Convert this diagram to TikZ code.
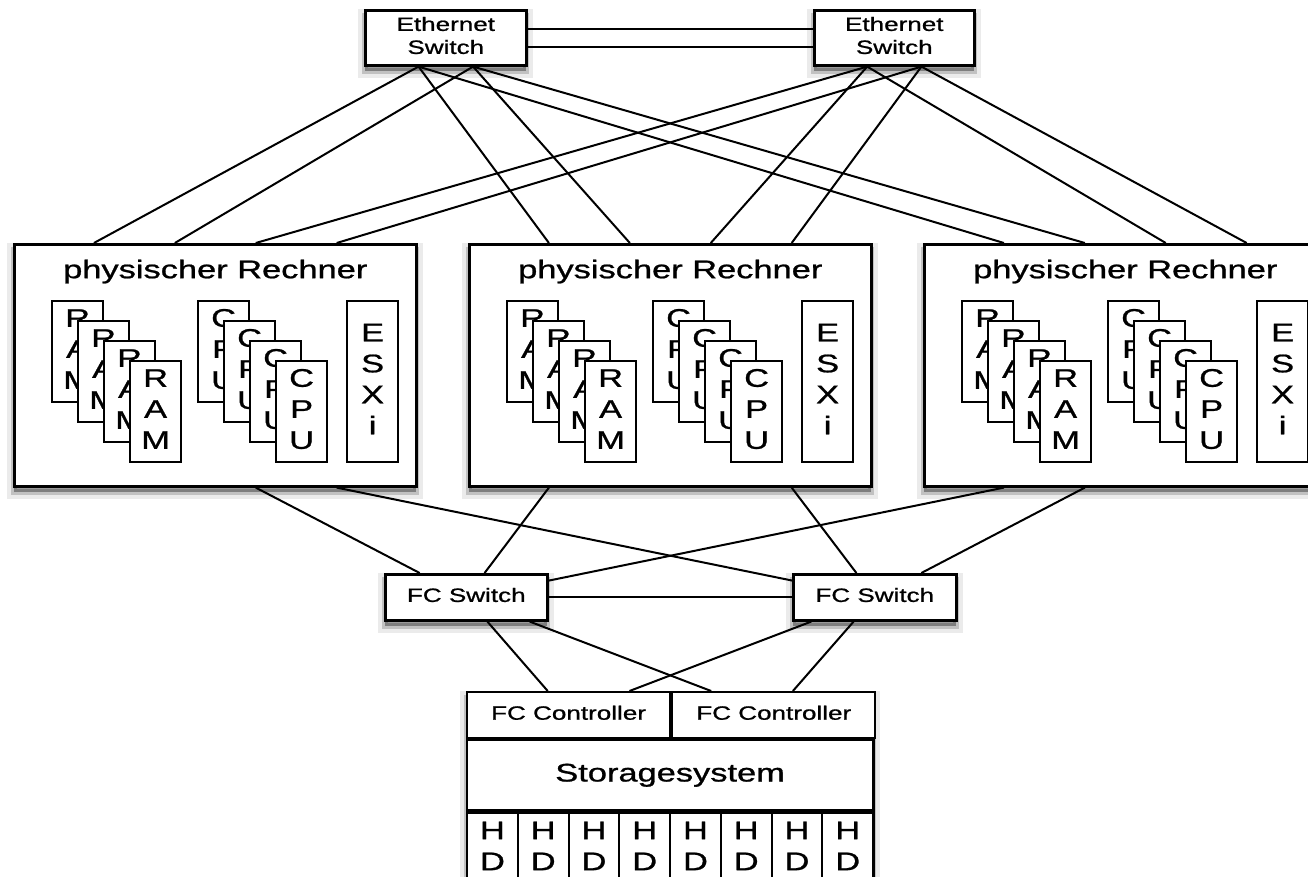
\documentclass[tikz,border=0pt]{standalone}
\usepackage{fontspec}
\setmainfont{Liberation Sans}[FakeBold=0.8]
\usepackage{graphicx}
\usepackage{tikz}
\usetikzlibrary{calc,shadows,positioning}

\newcommand{\largetext}{\fontsize{25.5}{31}\selectfont}
\newcommand{\smalltext}{\fontsize{19.3}{23}\selectfont}
% text in the drawing is set wide
\newcommand{\wide}[1]{\scalebox{1.35}[1]{\begin{tabular}{@{}c@{}}#1\end{tabular}}}

\begin{document}
\begin{tikzpicture}[x=1pt, y=-1pt,
    box/.style={draw, line width=2.6pt, fill=white, inner sep=0pt, anchor=north west,
        general shadow={shadow yshift=-6pt, fill=black, fill opacity=.12, draw=black, draw opacity=.08, line width=14pt},
        general shadow={shadow yshift=-6pt, fill=black, fill opacity=.25, draw=black, draw opacity=.18, line width=6pt}},
    part/.style={draw, line width=2.2pt, fill=white, inner sep=0pt, anchor=north west, font=\largetext},
    card/.style={part, minimum width=51pt, minimum height=101pt},
    link/.style={line width=2pt}]

    \useasboundingbox (0,0) rectangle (1308,876);
    \clip (0,0) rectangle (1308,876);

    % Ethernet switches
    \node[box, minimum width=161pt, minimum height=55pt, font=\smalltext] (eth1) at (364,9) {\wide{Ethernet\\Switch}};
    \node[box, minimum width=160pt, minimum height=55pt, font=\smalltext] (eth2) at (813,9) {\wide{Ethernet\\Switch}};
    \coordinate (eth1-a) at ($(eth1.south west)!1/3!(eth1.south east)$);
    \coordinate (eth1-b) at ($(eth1.south west)!2/3!(eth1.south east)$);
    \coordinate (eth2-a) at ($(eth2.south west)!1/3!(eth2.south east)$);
    \coordinate (eth2-b) at ($(eth2.south west)!2/3!(eth2.south east)$);

    % physical hosts
    \foreach \p/\bx in {1/13, 2/468, 3/923} {
        \node[box, minimum width=402pt, minimum height=242pt] (pc\p) at (\bx,243) {};
        \node[font=\largetext] (pc\p-title) at ([yshift=-29pt]pc\p.north) {\wide{physischer Rechner}};
        \foreach \i in {0,...,3} {
            \node[card] (ram\p-\i) at ([shift={(38+26*\i,57+20*\i)}]pc\p.north west) {\wide{R\\A\\M}};
            \node[card] (cpu\p-\i) at ([shift={(184+26*\i,57+20*\i)}]pc\p.north west) {\wide{C\\P\\U}};
        }
        \node[part, minimum width=51pt, minimum height=161pt] (esx\p) at ([shift={(333,57)}]pc\p.north west) {\wide{E\\S\\X\\i}};
        \foreach \k in {1,...,4} {
            \coordinate (pc\p-n\k) at ($(pc\p.north west)!\k/5!(pc\p.north east)$);
            \coordinate (pc\p-s\k) at ($(pc\p.south west)!\k/5!(pc\p.south east)$);
        }
    }

    % FC switches
    \node[box, minimum width=162pt, minimum height=46pt, font=\smalltext] (fc1) at (384,573) {\wide{FC Switch}};
    \node[box, minimum width=163pt, minimum height=46pt, font=\smalltext] (fc2) at (792,573) {\wide{FC Switch}};

    % storage
    \node[box, minimum width=406pt, minimum height=188pt] (st) at (466,691) {};
    \node[part, minimum width=203pt, minimum height=46pt, font=\smalltext] (ctl1) at (st.north west) {\wide{FC Controller}};
    \node[part, minimum width=203pt, minimum height=46pt, font=\smalltext] (ctl2) at (ctl1.north east) {\wide{FC Controller}};
    \node[part, minimum width=406pt, minimum height=70pt] (stmain) at (ctl1.south west) {\wide{Storagesystem}};
    \foreach \h in {0,...,7}
        \node[part, minimum width=50.75pt, minimum height=72pt] (hd\h) at ([shift={(50.75*\h,0)}]stmain.south west) {\wide{H\\D}};
    \foreach \k in {1,...,4}
        \coordinate (st-n\k) at ($(st.north west)!\k/5!(st.north east)$);

    % ethernet links
    \draw[link] ([yshift=8.5pt]eth1.east) -- ([yshift=8.5pt]eth2.west);
    \draw[link] ([yshift=-9.5pt]eth1.east) -- ([yshift=-9.5pt]eth2.west);
    \foreach \p in {1,2,3} {
        \draw[link] (eth1-a) -- (pc\p-n1);
        \draw[link] (eth1-b) -- (pc\p-n2);
        \draw[link] (eth2-a) -- (pc\p-n3);
        \draw[link] (eth2-b) -- (pc\p-n4);
    }

    % fibre channel links
    \draw[link] (pc1-s3) -- (fc1);
    \draw[link] (pc1-s4) -- (fc2);
    \draw[link] (pc2-s1) -- (fc1);
    \draw[link] (pc2-s4) -- (fc2);
    \draw[link] (pc3-s1) -- (fc1);
    \draw[link] (pc3-s2) -- (fc2);
    \draw[link] (fc1) -- (fc2);
    \draw[link] (fc1) -- (st-n1);
    \draw[link] (fc1) -- (st-n3);
    \draw[link] (fc2) -- (st-n2);
    \draw[link] (fc2) -- (st-n4);
\end{tikzpicture}
\end{document}
